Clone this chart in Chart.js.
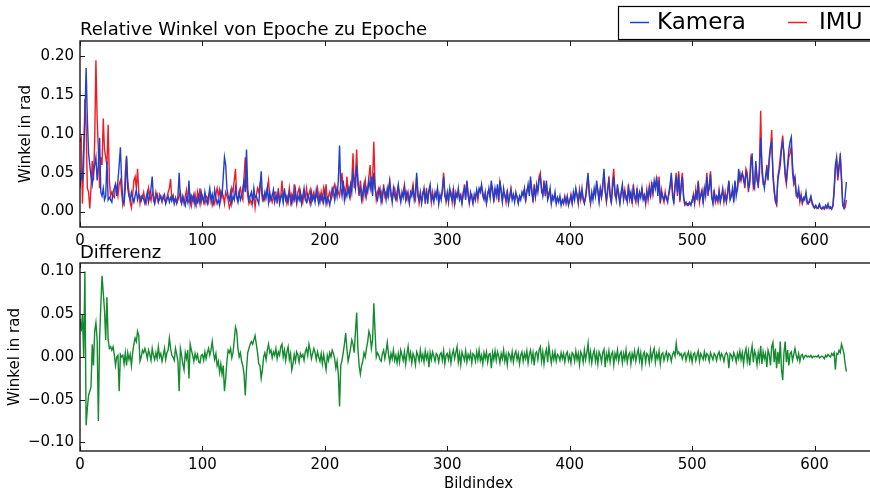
<!DOCTYPE html>
<html><head><meta charset="utf-8">
<script src="https://cdn.jsdelivr.net/npm/chart.js@4.4.1/dist/chart.umd.min.js"></script>
<style>
html,body{margin:0;padding:0;width:870px;height:492px;overflow:hidden;background:#fff}
canvas{position:absolute;left:0}
#c1{top:0}
#c2{top:230px}
</style></head><body>
<canvas id="c1" width="880" height="250"></canvas>
<canvas id="c2" width="880" height="262"></canvas>
<script>
const xTicks = [0,100,200,300,400,500,600];
const yTicksTop = [0,0.05,0.10,0.15,0.20];
const yTicksBot = [-0.10,-0.05,0,0.05,0.10];
const topTitle = 'Relative Winkel von Epoche zu Epoche';
const botTitle = 'Differenz';
const yLabel = 'Winkel in rad';
const xLabel = 'Bildindex';

const kamera = [
.030,.050,.040,.080,.120,.185,.120,.075,.060,.045,
.035,.050,.060,.070,.040,.060,.095,.025,.020,.030,
.015,.020,.065,.015,.018,.015,.012,.025,.030,.035,
.020,.040,.060,.083,.040,.015,.010,.030,.072,.030,
.020,.015,.025,.018,.012,.020,.028,.015,.022,.018,
.014,.020,.016,.010,.018,.025,.012,.020,.030,.045,
.015,.010,.018,.022,.012,.016,.020,.014,.018,.022,
.010,.015,.020,.012,.018,.014,.020,.010,.016,.012,
.020,.050,.015,.010,.020,.014,.008,.018,.012,.040,
.010,.020,.015,.022,.008,.016,.012,.020,.010,.025,
.018,.012,.025,.015,.010,.020,.030,.014,.022,.012,
.028,.018,.010,.015,.008,.025,.020,.045,.070,.060,
.030,.020,.015,.025,.010,.020,.015,.030,.018,.012,
.025,.015,.020,.030,.040,.025,.080,.030,.015,.020,
.025,.012,.030,.018,.020,.015,.010,.030,.052,.020,
.015,.025,.018,.030,.012,.025,.015,.020,.028,.012,
.020,.015,.025,.010,.018,.022,.012,.030,.015,.020,
.012,.025,.018,.010,.020,.015,.028,.012,.020,.015,
.025,.010,.020,.030,.015,.012,.022,.018,.010,.025,
.015,.020,.012,.028,.018,.010,.022,.015,.020,.012,
.025,.010,.018,.015,.008,.020,.030,.025,.015,.030,
.020,.040,.085,.030,.020,.040,.015,.025,.020,.030,
.020,.035,.025,.050,.040,.030,.060,.040,.025,.030,
.015,.025,.035,.020,.030,.025,.040,.030,.045,.020,
.050,.030,.020,.015,.025,.030,.012,.020,.030,.025,
.015,.030,.020,.038,.025,.012,.030,.020,.015,.025,
.035,.020,.012,.025,.018,.030,.015,.025,.020,.010,
.025,.020,.030,.015,.025,.050,.020,.015,.025,.010,
.020,.030,.015,.025,.010,.028,.035,.015,.020,.012,
.025,.018,.030,.010,.022,.015,.030,.045,.020,.015,
.025,.012,.030,.020,.015,.028,.010,.022,.018,.030,
.015,.020,.010,.025,.030,.015,.040,.020,.012,.025,
.018,.010,.022,.015,.028,.020,.030,.025,.035,.020,
.015,.025,.010,.020,.030,.018,.040,.025,.015,.030,
.020,.035,.015,.040,.025,.012,.030,.020,.015,.025,
.010,.020,.028,.015,.022,.012,.025,.018,.010,.020,
.015,.025,.020,.030,.015,.025,.035,.020,.045,.025,
.015,.030,.020,.035,.025,.040,.045,.030,.020,.035,
.025,.040,.015,.020,.030,.010,.020,.015,.025,.010,
.018,.012,.020,.008,.015,.010,.018,.012,.020,.008,
.015,.020,.010,.025,.015,.030,.020,.012,.025,.018,
.030,.015,.010,.020,.035,.050,.020,.012,.025,.015,
.030,.020,.040,.025,.012,.030,.020,.035,.055,.025,
.015,.030,.040,.020,.012,.030,.045,.025,.015,.035,
.020,.010,.025,.035,.015,.025,.020,.012,.030,.018,
.025,.010,.030,.020,.015,.028,.012,.025,.018,.030,
.015,.020,.012,.025,.018,.030,.020,.035,.025,.040,
.030,.045,.020,.040,.012,.025,.020,.015,.022,.018,
.012,.025,.035,.050,.020,.012,.030,.045,.025,.048,
.015,.030,.045,.020,.010,.012,.008,.010,.012,.008,
.015,.020,.012,.025,.018,.038,.015,.020,.025,.012,
.030,.020,.045,.025,.030,.048,.020,.010,.025,.015,
.020,.015,.025,.012,.020,.030,.015,.020,.012,.025,
.040,.015,.020,.030,.012,.040,.020,.030,.055,.040,
.045,.050,.040,.035,.050,.045,.030,.035,.060,.075,
.035,.030,.065,.040,.035,.050,.095,.060,.040,.030,
.045,.055,.040,.070,.085,.090,.050,.030,.015,.010,
.040,.050,.060,.080,.090,.075,.050,.040,.060,.080,
.090,.096,.060,.040,.045,.025,.020,.030,.015,.020,
.012,.018,.015,.025,.012,.010,.015,.020,.012,.008,
.005,.008,.004,.006,.010,.005,.003,.006,.004,.008,
.005,.010,.004,.006,.003,.008,.030,.060,.070,.045,
.060,.070,.040,.010,.005,.020,.038
];

const imu = [
.090,.095,.010,.060,.145,.110,.030,.025,.004,.030,
.065,.040,.090,.195,.120,.080,.030,.070,.060,.120,
.080,.070,.060,.112,.040,.020,.025,.020,.018,.035,
.030,.020,.035,.040,.025,.008,.015,.050,.070,.040,
.025,.012,.005,.020,.040,.045,.030,.055,.025,.010,
.020,.018,.025,.015,.010,.018,.030,.020,.014,.025,
.020,.012,.025,.018,.012,.022,.018,.012,.020,.015,
.012,.018,.025,.030,.042,.015,.020,.012,.018,.010,
.015,.020,.025,.012,.018,.010,.020,.028,.015,.012,
.020,.008,.018,.012,.022,.010,.025,.015,.030,.012,
.020,.015,.010,.020,.018,.012,.025,.020,.008,.015,
.010,.022,.030,.020,.028,.015,.025,.020,.010,.025,
.020,.015,.005,.010,.030,.025,.040,.055,.020,.015,
.025,.030,.020,.015,.045,.070,.035,.020,.010,.015,
.010,.015,.020,.005,.020,.030,.025,.035,.030,.015,
.020,.015,.025,.030,.040,.015,.020,.012,.018,.025,
.025,.010,.030,.015,.020,.040,.015,.025,.020,.010,
.018,.030,.012,.022,.015,.035,.020,.010,.025,.030,
.015,.020,.012,.025,.018,.030,.015,.022,.028,.012,
.020,.025,.015,.020,.030,.018,.012,.025,.015,.030,
.020,.035,.012,.020,.025,.015,.020,.030,.035,.020,
.030,.025,.020,.035,.050,.025,.030,.020,.045,.025,
.030,.020,.040,.075,.030,.045,.080,.035,.020,.040,
.025,.015,.030,.040,.020,.030,.045,.060,.030,.040,
.090,.035,.015,.025,.030,.020,.025,.015,.035,.020,
.025,.020,.030,.040,.020,.015,.025,.030,.020,.015,
.030,.025,.015,.020,.025,.035,.020,.015,.025,.015,
.020,.025,.035,.020,.015,.045,.025,.010,.020,.015,
.025,.028,.010,.030,.015,.025,.030,.012,.025,.015,
.020,.022,.028,.012,.020,.018,.025,.050,.025,.012,
.020,.015,.028,.025,.012,.030,.008,.025,.020,.025,
.018,.022,.012,.020,.035,.018,.038,.025,.010,.020,
.022,.012,.018,.020,.025,.015,.028,.030,.032,.025,
.018,.020,.012,.025,.028,.020,.035,.030,.012,.028,
.025,.030,.012,.038,.028,.015,.025,.022,.012,.028,
.012,.018,.030,.018,.020,.015,.022,.020,.012,.018,
.018,.022,.025,.028,.012,.028,.030,.025,.040,.030,
.012,.035,.018,.030,.028,.045,.050,.025,.022,.040,
.020,.035,.018,.025,.028,.012,.018,.018,.022,.012,
.015,.015,.018,.010,.012,.012,.020,.010,.018,.010,
.012,.022,.012,.020,.018,.028,.022,.010,.028,.015,
.025,.018,.012,.018,.030,.045,.025,.010,.022,.018,
.025,.022,.035,.028,.015,.028,.018,.030,.050,.028,
.012,.025,.045,.022,.010,.040,.055,.020,.018,.030,
.025,.012,.022,.030,.018,.028,.015,.015,.035,.015,
.022,.012,.035,.018,.012,.030,.015,.022,.020,.028,
.018,.022,.010,.028,.015,.032,.018,.038,.022,.035,
.032,.042,.025,.045,.010,.028,.018,.012,.025,.015,
.015,.022,.030,.045,.025,.010,.035,.050,.020,.052,
.012,.035,.050,.018,.008,.010,.010,.008,.010,.010,
.012,.022,.010,.028,.015,.040,.012,.022,.028,.010,
.028,.025,.050,.020,.035,.052,.018,.012,.028,.012,
.018,.012,.028,.015,.022,.025,.012,.025,.015,.022,
.038,.018,.022,.025,.015,.038,.025,.028,.045,.050,
.040,.048,.045,.030,.055,.050,.025,.040,.070,.065,
.030,.035,.060,.045,.030,.060,.130,.050,.035,.035,
.040,.060,.045,.065,.080,.105,.045,.025,.012,.008,
.045,.055,.070,.085,.098,.070,.045,.035,.055,.070,
.075,.085,.050,.035,.040,.020,.018,.025,.012,.022,
.010,.015,.018,.022,.010,.012,.012,.018,.010,.006,
.004,.006,.005,.004,.008,.004,.004,.005,.003,.006,
.004,.008,.005,.004,.004,.006,.025,.055,.065,.040,
.055,.075,.045,.008,.004,.005,.015
];

const differenz = [
.045,.030,.050,.000,.100,-.080,-.060,-.045,-.040,-.035,
.015,-.010,.030,.040,.020,-.075,.020,.060,.095,.075,
.055,.020,.070,.020,.010,.012,.008,.012,.003,-.010,
.000,.002,-.040,.003,.000,.002,-.008,.005,-.010,.005,
-.003,.003,-.010,.005,.015,.022,.018,.030,.025,-.005,
.000,.008,.005,.010,.005,-.002,.008,.003,-.004,.010,
.002,-.003,.005,-.002,.012,.000,.004,-.005,.002,.010,
-.003,.005,.008,.022,.010,.002,.000,-.004,.010,.003,
-.005,-.040,.010,.002,-.008,-.015,.005,-.002,.008,-.025,
.015,.008,.002,-.005,.004,-.002,.003,-.006,-.007,.002,
.003,-.004,.006,-.002,.005,.010,.002,.008,.018,.005,
-.003,.004,-.010,-.005,-.018,-.008,-.020,-.010,-.040,-.025,
-.005,.008,.005,.010,-.001,.005,.020,.035,.030,.010,
.000,.005,-.005,-.010,-.020,-.045,-.015,.005,.010,.015,
.018,.015,.020,.025,.015,.005,-.008,-.010,-.025,-.015,
.000,.005,-.003,.008,.015,.005,.008,-.001,.006,.002,
.010,-.002,.006,.002,.012,.015,.000,.008,-.004,.006,
.012,-.003,.004,-.015,-.008,.003,-.005,.006,.002,-.006,
.004,.000,.003,-.004,.006,.010,.002,.015,.008,-.002,
.004,.010,.005,-.003,.006,.000,-.005,.004,-.008,.003,
-.006,-.015,.002,-.004,.005,.000,.008,.004,-.002,-.013,
-.005,-.020,-.058,-.010,-.004,.005,.015,.028,.010,-.005,
.002,.010,.020,.015,.005,.030,.052,.010,-.010,-.020,
-.010,-.005,.005,.000,.010,.018,.030,.025,.010,.020,
.063,.030,.000,.005,.002,-.003,-.005,.004,.008,-.002,
.006,.017,.003,-.006,.004,-.002,.008,-.004,.002,-.007,
.004,-.006,.008,.002,-.004,.006,-.008,.003,.012,-.002,
.005,-.007,.004,.000,-.009,.006,.002,-.005,.008,-.003,
.003,-.006,.007,-.002,.004,-.012,.005,-.003,.006,.001,
-.005,.004,.002,-.006,.003,.005,-.004,.007,-.008,.002,
.004,-.003,.006,-.007,.003,.008,-.002,.005,.012,-.006,
.004,-.009,.006,.001,-.004,.007,-.006,.003,-.002,.005,
-.007,.004,.002,-.005,.006,-.003,.008,-.004,.002,-.008,
.005,-.002,.006,-.006,.003,.004,-.013,.005,-.003,.007,
-.004,.006,.001,-.007,.004,-.002,.008,-.005,.003,-.009,
.005,.002,-.004,.006,-.006,.003,.007,-.003,.004,-.008,
.002,.006,-.005,.004,-.002,.007,-.007,.003,.008,-.004,
.005,-.010,.004,.006,-.003,.008,.012,-.005,.006,-.008,
.004,.009,-.006,.013,.002,-.007,.005,-.003,.006,-.005,
.003,.001,-.004,.005,-.002,.004,-.006,.003,.006,-.004,
.002,-.007,.005,.003,-.005,.007,-.003,.004,-.009,.006,
.002,-.006,.008,-.003,.005,.016,-.004,.006,-.007,.003,
.008,-.005,.004,-.008,.006,.002,-.006,.005,.009,-.012,
.004,-.003,.007,-.006,.003,.006,-.009,.004,-.002,.008,
-.005,.003,.006,-.007,.004,-.003,.008,-.006,.002,.005,
-.008,.004,-.002,.007,-.005,.003,.009,-.004,.005,-.010,
.003,.006,-.006,.004,.002,-.007,.008,-.003,.005,.010,
-.006,.004,-.002,.007,-.008,.003,.005,-.004,.002,.006,
-.003,.004,.002,-.005,.003,.006,.001,.016,.004,.006,
.002,.004,-.002,.003,.005,-.004,.002,.006,-.003,.004,
-.006,.003,.005,-.004,.002,.007,-.005,.004,.001,-.003,
.006,-.002,.004,.002,-.005,.005,.001,-.003,.004,.002,
-.004,.003,.006,-.002,.004,.001,-.005,.003,.005,.002,
-.013,.004,.002,-.003,.005,.001,-.006,.004,-.002,.007,
-.003,.005,-.008,.004,.010,-.005,.006,-.010,.004,.013,
-.006,.007,.002,-.009,.005,-.004,.013,-.008,.006,-.002,
.004,-.012,.008,.003,-.010,.012,.017,-.006,.010,-.013,
.006,-.008,.018,-.015,-.027,.005,.018,-.006,.008,-.010,
.004,.006,-.004,.003,.010,.002,-.003,.004,-.005,.002,
.003,-.002,.001,.002,.000,.001,.000,.002,-.001,.001,
.000,.001,.000,.002,-.001,.000,.001,.000,-.002,.002,
.000,.003,.001,.000,.004,.002,.005,-.015,.004,.003,
.008,.005,.015,.010,.004,-.008,-.017
];

const FONT = 'DejaVu Sans';
const fmtY = v => (Math.abs(v) < 1e-9 ? 0 : v).toFixed(2).replace('-', '\u2212');
const pts = arr => arr.map((v, i) => ({x: i, y: v}));

function framePlugin(title, titleGap, legend) {
  return {
    id: 'frame',
    afterDraw(chart) {
      const {ctx, chartArea: a, scales: {x, y}} = chart;
      ctx.save();
      ctx.strokeStyle = '#1a1a1a';
      ctx.lineWidth = 1.4;
      ctx.strokeRect(a.left, a.top, a.right - a.left, a.bottom - a.top);
      ctx.lineWidth = 1;
      ctx.beginPath();
      x.ticks.forEach(t => {
        const px = Math.round(x.getPixelForValue(t.value)) + 0.5;
        ctx.moveTo(px, a.bottom); ctx.lineTo(px, a.bottom - 5);
        ctx.moveTo(px, a.top); ctx.lineTo(px, a.top + 5);
      });
      y.ticks.forEach(t => {
        const py = Math.round(y.getPixelForValue(t.value)) + 0.5;
        ctx.moveTo(a.left, py); ctx.lineTo(a.left + 5, py);
        ctx.moveTo(a.right, py); ctx.lineTo(a.right - 5, py);
      });
      ctx.stroke();
      ctx.fillStyle = '#000';
      ctx.font = '18px "' + FONT + '"';
      ctx.textBaseline = 'alphabetic';
      ctx.textAlign = 'left';
      ctx.fillText(title, a.left, a.top - titleGap);
      if (legend) {
        ctx.fillStyle = '#fff';
        ctx.fillRect(618, 6, 300, 33);
        ctx.strokeStyle = '#000';
        ctx.lineWidth = 1.2;
        ctx.strokeRect(618.5, 6.5, 300, 33);
        ctx.font = '23px "' + FONT + '"';
        ctx.textBaseline = 'middle';
        const lineX = [630, 788];
        const textX = [657, 819];
        chart.data.datasets.forEach((ds, i) => {
          ctx.strokeStyle = ds.borderColor;
          ctx.lineWidth = 1.5;
          ctx.beginPath();
          ctx.moveTo(lineX[i], 22.5); ctx.lineTo(lineX[i] + 19, 22.5);
          ctx.stroke();
          ctx.fillStyle = '#000';
          ctx.fillText(ds.label, textX[i], 23);
        });
      }
      ctx.restore();
    }
  };
}

function makeScales(ymin, ymax, yTicks, titlePad, xHeight, showXTitle) {
  return {
    x: {
      type: 'linear', min: 0, max: 651,
      grid: {display: false, drawTicks: false},
      border: {display: false},
      afterBuildTicks: s => { s.ticks = xTicks.map(v => ({value: v})); },
      afterFit: s => { s.height = xHeight; },
      ticks: {color: '#000', font: {family: FONT, size: 15}, padding: 5, maxRotation: 0, autoSkip: false,
              callback: v => String(v)},
      title: {display: showXTitle, text: xLabel, color: '#000', font: {family: FONT, size: 15}, padding: {top: 0, bottom: -1}}
    },
    y: {
      min: ymin, max: ymax,
      grid: {display: false, drawTicks: false},
      border: {display: false},
      afterBuildTicks: s => { s.ticks = yTicks.map(v => ({value: v})); },
      afterFit: s => { s.width = 80; },
      ticks: {color: '#000', font: {family: FONT, size: 15}, padding: 6, autoSkip: false, callback: v => fmtY(v)},
      title: {display: true, text: yLabel, color: '#000', font: {family: FONT, size: 15}, padding: {top: titlePad, bottom: 0}}
    }
  };
}

const common = {
  responsive: false,
  animation: false,
  events: [],
  plugins: {legend: {display: false}, tooltip: {enabled: false}, title: {display: false}},
};

new Chart(document.getElementById('c1'), {
  type: 'line',
  data: {datasets: [
    {label: 'Kamera', data: pts(kamera), borderColor: '#1f3fcf', borderWidth: 1.4, pointRadius: 0, tension: 0},
    {label: 'IMU', data: pts(imu), borderColor: '#f01c24', borderWidth: 1.4, pointRadius: 0, tension: 0}
  ]},
  options: Object.assign({}, common, {
    layout: {padding: {left: 0, right: 3, top: 41, bottom: 0}},
    scales: makeScales(-0.02, 0.22, yTicksTop, 17, 23, false)
  }),
  plugins: [framePlugin(topTitle, 6, true)]
});

new Chart(document.getElementById('c2'), {
  type: 'line',
  data: {datasets: [
    {label: 'Differenz', data: pts(differenz), borderColor: '#138a2e', borderWidth: 1.4, pointRadius: 0, tension: 0}
  ]},
  options: Object.assign({}, common, {
    layout: {padding: {left: 0, right: 3, top: 33, bottom: 0}},
    scales: makeScales(-0.11, 0.11, yTicksBot, 6, 41, true)
  }),
  plugins: [framePlugin(botTitle, 5, false)]
});
</script>
</body></html>
